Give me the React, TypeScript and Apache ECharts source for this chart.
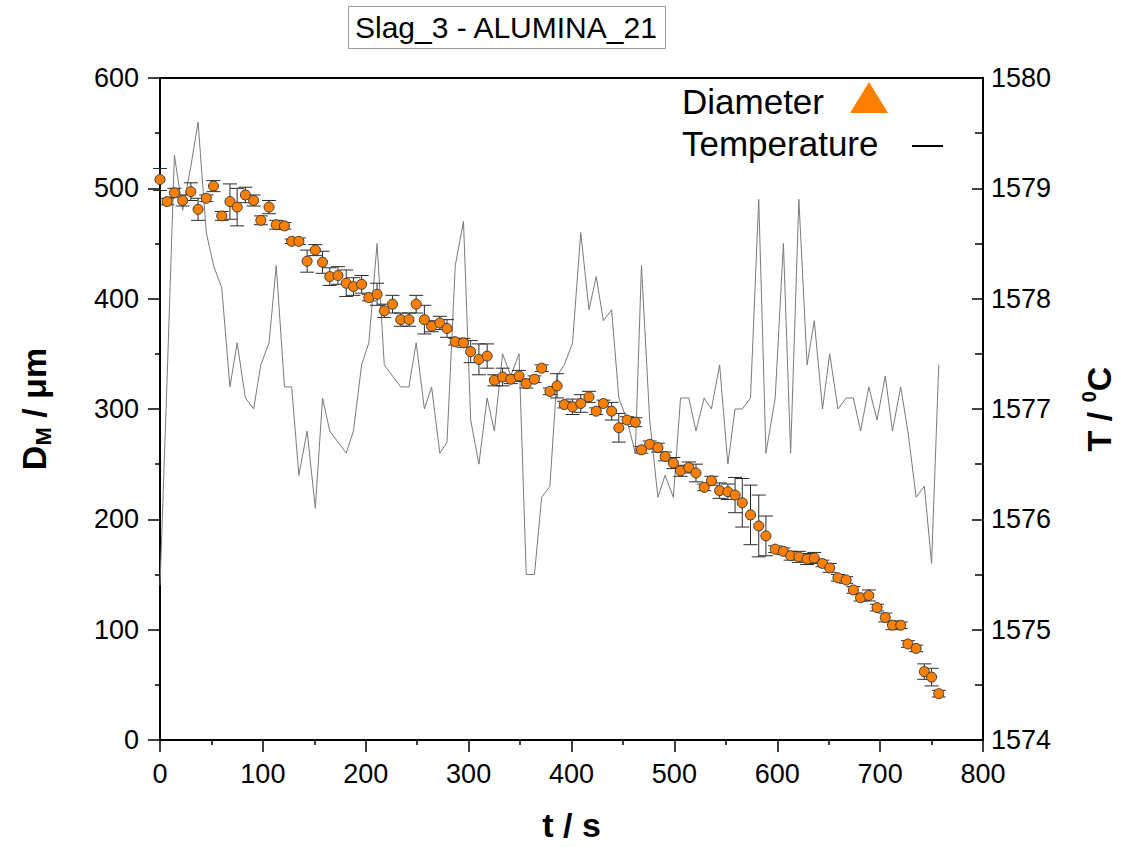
import React, { useEffect, useRef } from "react";
import * as echarts from "echarts";

const FONT = '"Liberation Sans", Arial, Helvetica, sans-serif';

const titleText = "Slag_3 - ALUMINA_21";
const xTicks = [0, 100, 200, 300, 400, 500, 600, 700, 800];

// time (s) of each measurement
const time = [0, 7, 14, 22, 30, 37, 45, 52, 60, 68, 75, 83, 91, 98, 106, 113, 121, 128, 135, 143, 151, 158, 165, 173, 181, 188, 196, 203, 211, 218, 226, 234, 242, 249, 257, 264, 272, 279, 287, 295, 302, 310, 318, 325, 333, 341, 349, 356, 364, 371, 379, 386, 393, 401, 409, 417, 424, 431, 439, 446, 454, 462, 468, 476, 484, 491, 499, 506, 514, 521, 529, 536, 544, 552, 559, 566, 574, 582, 589, 598, 606, 613, 621, 629, 636, 644, 651, 659, 667, 674, 681, 689, 697, 705, 712, 720, 727, 735, 743, 750, 757];

// diameter D_M (µm)
const diameter = [508, 488, 496, 489, 497, 481, 491, 502, 475, 488, 483, 494, 489, 471, 483, 467, 466, 452, 452, 434, 444, 433, 420, 421, 414, 411, 413, 401, 404, 389, 395, 381, 381, 395, 381,
  375, 378, 373, 361, 360, 352, 345, 348, 326, 329, 327, 330, 323, 327, 337, 316, 321, 304, 302, 305, 311, 298, 305, 298, 283, 290, 288, 263, 268, 265, 257, 251,
  244, 247, 242, 229, 235, 226, 225, 222, 215, 204, 194, 185, 173, 171, 167, 166, 164, 165, 160, 156, 147, 145, 136, 129, 131, 120, 111, 104, 104, 87, 83, 62, 57, 42];

// error (± µm)
const diameterErr = [10, 3, 4, 5, 8, 10, 3, 5, 4, 16, 17, 7, 5, 4, 6, 4, 3, 2, 3, 10, 5, 10, 8, 8, 12, 8, 8, 3, 10, 6, 8, 6, 6, 8, 13,
  5, 6, 8, 3, 4, 10, 14, 11, 5, 8, 4, 5, 4, 3, 3, 3, 11, 3, 7, 8, 5, 3, 3, 8, 13, 3, 4, 3, 3, 4, 4, 5,
  5, 5, 8, 3, 4, 7, 7, 16, 22, 27, 28, 18, 3, 3, 4, 5, 5, 5, 3, 4, 3, 3, 3, 3, 5, 3, 4, 4, 3, 3, 3, 7, 8, 3];

// temperature (°C)
const temperature = [1575.4, 1577.3, 1579.3, 1578.8, 1579.2, 1579.6, 1578.6, 1578.3, 1578.1, 1577.2, 1577.6, 1577.1, 1577.0, 1577.4, 1577.6, 1578.3, 1577.2, 1577.2, 1576.4, 1576.8, 1576.1, 1577.1, 1576.8, 1576.7, 1576.6, 1576.8, 1577.4, 1577.6, 1578.5, 1577.4, 1577.3, 1577.2, 1577.2, 1577.6, 1577.0,
  1577.2, 1576.6, 1576.7, 1578.3, 1578.7, 1576.9, 1576.5, 1577.1, 1576.8, 1577.5, 1577.3, 1577.5, 1575.5, 1575.5, 1576.2, 1576.3, 1577.3, 1577.4, 1577.6, 1578.6, 1577.9, 1578.2, 1577.8, 1577.9, 1577.1, 1576.9, 1576.6, 1578.3, 1576.9, 1576.2, 1576.4, 1576.2,
  1577.1, 1577.1, 1576.8, 1577.1, 1577.0, 1577.4, 1576.5, 1577.0, 1577.0, 1577.1, 1578.9, 1576.6, 1577.1, 1578.5, 1576.6, 1578.9, 1577.4, 1577.8, 1577.0, 1577.5, 1577.0, 1577.1, 1577.1, 1576.8, 1577.2, 1576.9, 1577.3, 1576.8, 1577.2, 1576.8, 1576.2, 1576.3, 1575.6, 1577.4];

const legendLabels = ["Diameter", "Temperature"];

export default function App() {
  const ref = useRef<HTMLDivElement>(null);

  useEffect(() => {
    document.body.style.margin = "0";
    if (!ref.current) return;
    const chart = echarts.init(ref.current, undefined, { renderer: "svg" });

    const scatterData = time.map((t, i) => [t, diameter[i]]);
    const errData = time.map((t, i) => [t, diameter[i], diameterErr[i]]);
    const tempData = time.map((t, i) => [t, temperature[i]]);

    const tickStyle = { color: "#000", width: 1.5 };

    const option: any = {
      animation: false,
      backgroundColor: "#ffffff",
      title: {
        text: titleText,
        left: 348,
        top: 6,
        padding: [5, 7, 5, 7],
        borderWidth: 1,
        borderColor: "#9a9a9a",
        textStyle: { fontFamily: FONT, fontSize: 30, fontWeight: "normal", color: "#000", lineHeight: 33 },
      },
      grid: {
        left: 160,
        right: 136,
        top: 78,
        bottom: 103,
        show: true,
        borderColor: "#000",
        borderWidth: 2,
        backgroundColor: "transparent",
      },
      xAxis: {
        type: "value",
        min: xTicks[0],
        max: xTicks[xTicks.length - 1],
        interval: 100,
        name: "t / s",
        nameLocation: "middle",
        nameGap: 68,
        nameTextStyle: { fontFamily: FONT, fontSize: 34, fontWeight: "bold", color: "#000" },
        axisLine: { show: true, lineStyle: { color: "#000", width: 2 } },
        axisTick: { show: true, inside: false, length: 12, lineStyle: tickStyle },
        minorTick: { show: true, splitNumber: 2, length: 5, lineStyle: tickStyle },
        axisLabel: { fontFamily: FONT, fontSize: 27, color: "#000", margin: 20 },
        splitLine: { show: false },
      },
      yAxis: [
        {
          type: "value",
          min: 0,
          max: 600,
          interval: 100,
          position: "left",
          name: "{a|D}{b|M}{a| / μm}",
          nameLocation: "middle",
          nameRotate: 90,
          nameGap: 106,
          nameTextStyle: {
            rich: {
              a: { fontFamily: FONT, fontSize: 34, fontWeight: "bold", color: "#000", lineHeight: 40 },
              b: { fontFamily: FONT, fontSize: 22, fontWeight: "bold", color: "#000", lineHeight: 22, verticalAlign: "bottom" },
            },
          },
          axisLine: { show: true, lineStyle: { color: "#000", width: 2 } },
          axisTick: { show: true, inside: false, length: 12, lineStyle: tickStyle },
          minorTick: { show: true, splitNumber: 2, length: 5, lineStyle: tickStyle },
          axisLabel: { fontFamily: FONT, fontSize: 27, color: "#000", margin: 21 },
          splitLine: { show: false },
        },
        {
          type: "value",
          min: 1574,
          max: 1580,
          interval: 1,
          position: "right",
          name: "{a|T / }{b|0}{a|C}",
          nameLocation: "middle",
          nameRotate: 90,
          nameGap: 96,
          nameTextStyle: {
            rich: {
              a: { fontFamily: FONT, fontSize: 34, fontWeight: "bold", color: "#000", lineHeight: 40 },
              b: { fontFamily: FONT, fontSize: 20, fontWeight: "bold", color: "#000", lineHeight: 20, verticalAlign: "top" },
            },
          },
          axisLine: { show: true, lineStyle: { color: "#000", width: 2 } },
          axisTick: { show: true, inside: true, length: 11, lineStyle: tickStyle },
          minorTick: { show: true, splitNumber: 2, length: 8, lineStyle: tickStyle },
          axisLabel: {
            fontFamily: FONT,
            fontSize: 27,
            color: "#000",
            margin: 8,
            formatter: (v: number) => String(Math.round(v)),
          },
          splitLine: { show: false },
        },
      ],
      series: [
        {
          name: legendLabels[1],
          type: "line",
          yAxisIndex: 1,
          data: tempData,
          symbol: "none",
          lineStyle: { color: "#7a7a7a", width: 1 },
          z: 1,
        },
        {
          name: "DiameterError",
          type: "custom",
          yAxisIndex: 0,
          data: errData,
          encode: { x: 0, y: 1 },
          z: 2,
          renderItem: (params: any, api: any) => {
            const x = api.value(0);
            const y = api.value(1);
            const e = api.value(2);
            const top = api.coord([x, y + e]);
            const bot = api.coord([x, y - e]);
            const hw = 7;
            const st = { stroke: "#2b2b2b", lineWidth: 1 };
            return {
              type: "group",
              children: [
                { type: "line", shape: { x1: top[0], y1: top[1], x2: bot[0], y2: bot[1] }, style: st },
                { type: "line", shape: { x1: top[0] - hw, y1: top[1], x2: top[0] + hw, y2: top[1] }, style: st },
                { type: "line", shape: { x1: bot[0] - hw, y1: bot[1], x2: bot[0] + hw, y2: bot[1] }, style: st },
              ],
            };
          },
        },
        {
          name: legendLabels[0],
          type: "scatter",
          yAxisIndex: 0,
          data: scatterData,
          symbol: "circle",
          symbolSize: 10,
          itemStyle: { color: "#FF8000", borderColor: "#3a3a3a", borderWidth: 1, opacity: 1 },
          z: 3,
        },
      ],
      graphic: [
        {
          type: "text",
          left: 682,
          top: 84,
          style: { text: legendLabels[0], fontFamily: FONT, fontSize: 35, fill: "#000" },
        },
        {
          type: "polygon",
          shape: { points: [[850, 113], [888, 113], [869, 82]] },
          style: { fill: "#FF8000" },
        },
        {
          type: "text",
          left: 682,
          top: 126,
          style: { text: legendLabels[1], fontFamily: FONT, fontSize: 35, fill: "#000" },
        },
        {
          type: "line",
          shape: { x1: 912, y1: 146, x2: 943, y2: 146 },
          style: { stroke: "#000", lineWidth: 2 },
        },
      ],
    };

    chart.setOption(option);
    return () => chart.dispose();
  }, []);

  return <div ref={ref} style={{ width: 1124, height: 847 }} />;
}
